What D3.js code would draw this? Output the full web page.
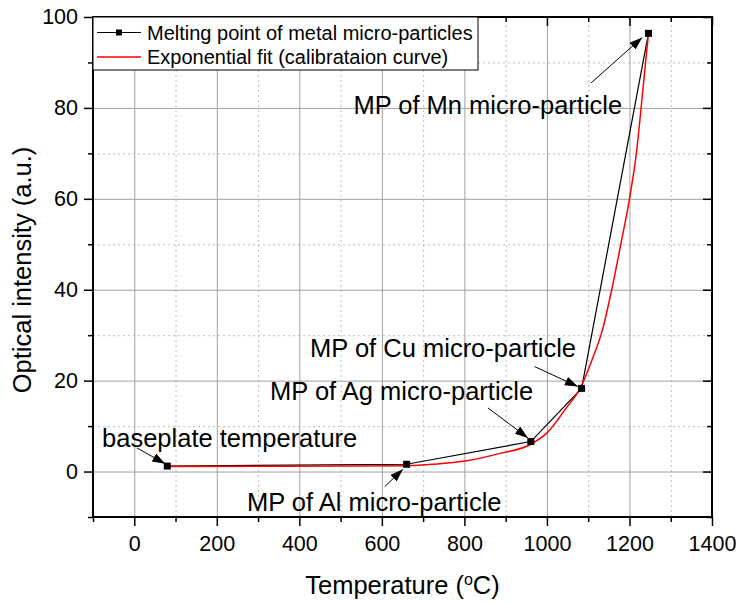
<!DOCTYPE html>
<html>
<head>
<meta charset="utf-8">
<script src="https://d3js.org/d3.v7.min.js"></script>
<style>
    body { margin: 0; background: #fff; }
    text { font-family: 'Liberation Sans', Arial, sans-serif; fill: #000; }
</style>
</head>
<body>
<svg id="chart" width="736" height="604"></svg>
<script>
    // melting points (measured)
    var mpTemp = [80, 660, 961, 1084, 1246];
    var mpIntensity = [1.2, 1.6, 6.6, 18.3, 96.4];

    // exponential fit (red)
    var fitTemp = [80, 300, 500, 660, 724, 805, 886, 961, 1000, 1047, 1081, 1111, 1134, 1157, 1179, 1200, 1218, 1226, 1246];
    var fitIntensity = [1.1, 1.15, 1.2, 1.3, 1.6, 2.35, 4.0, 6.0, 8.5, 14.0, 18.4, 25, 31, 40, 50, 60, 71, 78, 96.4];

    var xTicks = [0, 200, 400, 600, 800, 1000, 1200, 1400];
    var xMinor = [-100, 100, 300, 500, 700, 900, 1100, 1300];
    var yTicks = [0, 20, 40, 60, 80, 100];
    var yMinor = [-10, 10, 30, 50, 70, 90];

    var legendLabels = ["Melting point of metal micro-particles", "Exponential fit (calibrataion curve)"];

    // annotation text [x, y] and arrow [x1, y1, x2, y2], in data units
    var noteText = ["baseplate temperature", "MP of Al micro-particle", "MP of Ag micro-particle", "MP of Cu micro-particle", "MP of Mn micro-particle"];
    var notePos = [[-78, 5.4], [273, -8.6], [329, 15.8], [426, 25.3], [531, 78.6]];
    var noteArrow = [[6.5, 5.2, 75, 1.7], [607, -3.3, 651, 0.5], [857, 14, 954, 7.4], [970, 23.1, 1075, 18.7], [1107, 85.5, 1231, 95.5]];

    var svg = d3.select("#chart");
    var pLeft = 93, pRight = 712, pTop = 17, pBottom = 517;

    var x = d3.scaleLinear().domain([-100, 1400]).range([pLeft, pRight]);
    var y = d3.scaleLinear().domain([-10, 100]).range([pBottom, pTop]);

    svg.append("defs").append("marker")
        .attr("id", "arrow")
        .attr("viewBox", "0 0 10 10")
        .attr("refX", 10).attr("refY", 5)
        .attr("markerWidth", 13).attr("markerHeight", 13)
        .attr("markerUnits", "userSpaceOnUse")
        .attr("orient", "auto")
        .append("path")
        .attr("d", "M0,1.5 L10,5 L0,8.5 Z")
        .attr("fill", "#000");

    // grid, drawn with axes stretched across the plot
    var gridStyle = function (color, dash) {
        return function (g) {
            g.select(".domain").remove();
            g.selectAll("line").attr("stroke", color).attr("stroke-width", 1).attr("stroke-dasharray", dash);
        };
    };
    svg.append("g").attr("transform", "translate(0," + pBottom + ")")
        .call(d3.axisBottom(x).tickValues(xMinor.slice(1)).tickSize(-(pBottom - pTop)).tickFormat(""))
        .call(gridStyle("#bdbdbd", "2,3"));
    svg.append("g").attr("transform", "translate(" + pLeft + ",0)")
        .call(d3.axisLeft(y).tickValues(yMinor.slice(1)).tickSize(-(pRight - pLeft)).tickFormat(""))
        .call(gridStyle("#bdbdbd", "2,3"));
    svg.append("g").attr("transform", "translate(0," + pBottom + ")")
        .call(d3.axisBottom(x).tickValues(xTicks.slice(0, -1)).tickSize(-(pBottom - pTop)).tickFormat(""))
        .call(gridStyle("#a0a0a0", null));
    svg.append("g").attr("transform", "translate(" + pLeft + ",0)")
        .call(d3.axisLeft(y).tickValues(yTicks.slice(0, -1)).tickSize(-(pRight - pLeft)).tickFormat(""))
        .call(gridStyle("#a0a0a0", null));

    // axes
    var axStyle = function (g) {
        g.select(".domain").remove();
        g.selectAll("line").attr("stroke", "#000").attr("stroke-width", 1.5);
        g.selectAll("text").style("font-size", "21.5px").style("font-family", "'Liberation Sans', Arial, sans-serif");
    };

    svg.append("g").attr("transform", "translate(0," + pBottom + ")")
        .call(d3.axisBottom(x).tickValues(xTicks).tickSize(9).tickPadding(10).tickFormat(d3.format("d")))
        .call(axStyle);
    svg.append("g").attr("transform", "translate(0," + pBottom + ")")
        .call(d3.axisBottom(x).tickValues(xMinor).tickSize(5).tickFormat(""))
        .call(axStyle);
    svg.append("g").attr("transform", "translate(" + pLeft + ",0)")
        .call(d3.axisLeft(y).tickValues(yTicks).tickSize(9).tickPadding(6).tickFormat(d3.format("d")))
        .call(axStyle);
    svg.append("g").attr("transform", "translate(" + pLeft + ",0)")
        .call(d3.axisLeft(y).tickValues(yMinor).tickSize(5).tickFormat(""))
        .call(axStyle);
    svg.append("g").attr("transform", "translate(0," + pTop + ")")
        .call(d3.axisBottom(x).tickValues(xTicks).tickSize(9).tickFormat(""))
        .call(axStyle);
    svg.append("g").attr("transform", "translate(0," + pTop + ")")
        .call(d3.axisBottom(x).tickValues(xMinor).tickSize(5).tickFormat(""))
        .call(axStyle);
    svg.append("g").attr("transform", "translate(" + pRight + ",0)")
        .call(d3.axisRight(y).tickValues(yTicks).tickSize(-9).tickFormat(""))
        .call(axStyle);
    svg.append("g").attr("transform", "translate(" + pRight + ",0)")
        .call(d3.axisRight(y).tickValues(yMinor).tickSize(-5).tickFormat(""))
        .call(axStyle);

    svg.append("rect")
        .attr("x", pLeft).attr("y", pTop)
        .attr("width", pRight - pLeft).attr("height", pBottom - pTop)
        .attr("fill", "none").attr("stroke", "#000").attr("stroke-width", 2);

    // series
    var mpData = mpTemp.map(function (d, i) { return [d, mpIntensity[i]]; });
    var fitData = fitTemp.map(function (d, i) { return [d, fitIntensity[i]]; });

    var line = d3.line()
        .x(function (d) { return x(d[0]); })
        .y(function (d) { return y(d[1]); });

    svg.append("path")
        .attr("d", line(mpData))
        .attr("fill", "none").attr("stroke", "#000").attr("stroke-width", 1.2);

    svg.append("path")
        .attr("d", line.curve(d3.curveMonotoneX)(fitData))
        .attr("fill", "none").attr("stroke", "#ff0000").attr("stroke-width", 1.5);

    svg.selectAll(".pt").data(mpData).enter()
        .append("rect")
        .attr("class", "pt")
        .attr("x", function (d) { return x(d[0]) - 3.5; })
        .attr("y", function (d) { return y(d[1]) - 3.5; })
        .attr("width", 7).attr("height", 7)
        .attr("fill", "#000");

    // annotations
    noteText.forEach(function (t, i) {
        svg.append("text")
            .attr("x", x(notePos[i][0])).attr("y", y(notePos[i][1]))
            .style("font-size", "25.5px")
            .text(t);
        var a = noteArrow[i];
        svg.append("line")
            .attr("x1", x(a[0])).attr("y1", y(a[1]))
            .attr("x2", x(a[2])).attr("y2", y(a[3]))
            .attr("stroke", "#000").attr("stroke-width", 1)
            .attr("marker-end", "url(#arrow)");
    });

    // legend
    var lg = svg.append("g");
    lg.append("rect")
        .attr("x", pLeft).attr("y", pTop).attr("width", 385).attr("height", 53)
        .attr("fill", "#fff").attr("stroke", "#000").attr("stroke-width", 1);
    var legendColors = ["#000", "#ff0000"];
    legendLabels.forEach(function (t, i) {
        var ly = pTop + 15.5 + i * 24.5;
        lg.append("line")
            .attr("x1", pLeft + 4).attr("x2", pLeft + 48)
            .attr("y1", ly).attr("y2", ly)
            .attr("stroke", legendColors[i]).attr("stroke-width", i ? 1.5 : 1.2);
        if (i === 0) {
            lg.append("rect").attr("x", pLeft + 23).attr("y", ly - 3).attr("width", 6).attr("height", 6).attr("fill", "#000");
        }
        lg.append("text")
            .attr("x", pLeft + 54).attr("y", ly + 7)
            .style("font-size", "20px")
            .text(t);
    });

    // axis titles
    var xt = svg.append("text")
        .attr("x", (pLeft + pRight) / 2).attr("y", 594)
        .attr("text-anchor", "middle")
        .style("font-size", "25.5px");
    xt.append("tspan").text("Temperature (");
    xt.append("tspan").attr("dy", -9).style("font-size", "16px").text("o");
    xt.append("tspan").attr("dy", 9).text("C)");

    svg.append("text")
        .attr("transform", "translate(30.5,270) rotate(-90)")
        .attr("text-anchor", "middle")
        .style("font-size", "25.5px")
        .text("Optical intensity (a.u.)");
</script>
</body>
</html>
